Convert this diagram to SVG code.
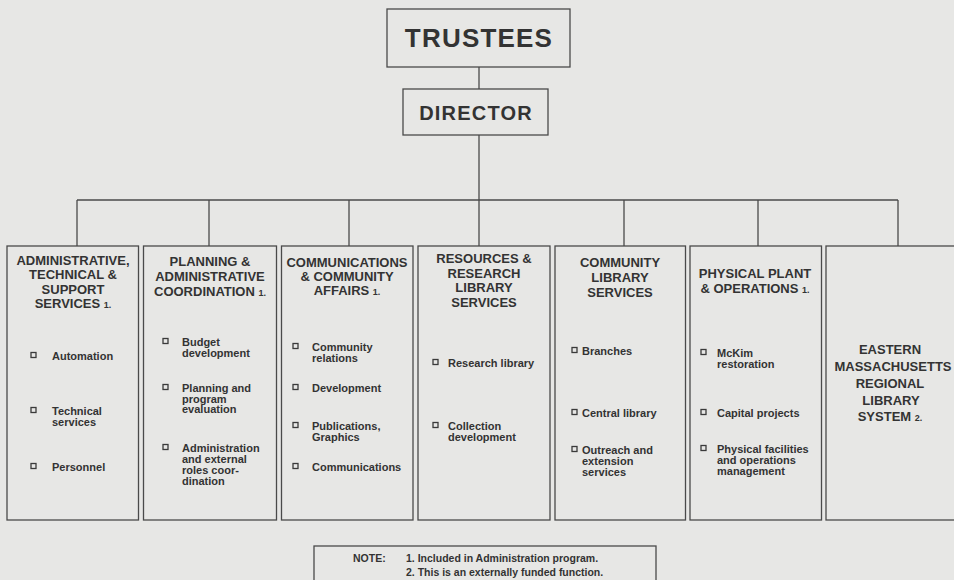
<svg xmlns="http://www.w3.org/2000/svg" width="954" height="580" viewBox="0 0 954 580">
  <style>
    .box { fill: none; stroke: #4a4a4a; stroke-width: 1.3; }
    .wire { fill: none; stroke: #4a4a4a; stroke-width: 1.3; }
    .title { font-family: "Liberation Sans", Arial, sans-serif; font-weight: bold; fill: #333; text-anchor: middle; }
    .head { font-family: "Liberation Sans", Arial, sans-serif; font-weight: bold; font-size: 13px; fill: #333; text-anchor: middle; }
    .fn { font-size: 9px; }
    .item { font-family: "Liberation Sans", Arial, sans-serif; font-weight: bold; font-size: 11px; fill: #333; }
    .bul { fill: none; stroke: #3a3a3a; stroke-width: 1.3; }
    .note { font-family: "Liberation Sans", Arial, sans-serif; font-weight: bold; font-size: 10.5px; fill: #333; }
  </style>
  <rect x="0" y="0" width="954" height="580" fill="#e7e7e5"/>

  <!-- connectors -->
  <g id="connectors">
    <line class="wire" x1="479" y1="67" x2="479" y2="89"/>
    <line class="wire" x1="479" y1="135" x2="479" y2="200"/>
    <line class="wire" x1="77" y1="200" x2="898" y2="200"/>
    <line class="wire" x1="77" y1="200" x2="77" y2="246"/>
    <line class="wire" x1="209" y1="200" x2="209" y2="246"/>
    <line class="wire" x1="349" y1="200" x2="349" y2="246"/>
    <line class="wire" x1="479" y1="200" x2="479" y2="246"/>
    <line class="wire" x1="624" y1="200" x2="624" y2="246"/>
    <line class="wire" x1="758" y1="200" x2="758" y2="246"/>
    <line class="wire" x1="898" y1="200" x2="898" y2="246"/>
  </g>

  <g id="trustees">
    <rect class="box" x="387" y="9" width="183" height="58"/>
    <text class="title" x="479" y="47" font-size="26" letter-spacing="1.2">TRUSTEES</text>
  </g>

  <g id="director">
    <rect class="box" x="403" y="89" width="145" height="46"/>
    <text class="title" x="476" y="120" font-size="20" letter-spacing="1.2">DIRECTOR</text>
  </g>

  <g id="admin-services">
    <rect class="box" x="7" y="246" width="131.5" height="274"/>
    <text class="head" x="73" y="265">ADMINISTRATIVE,</text>
    <text class="head" x="73" y="279">TECHNICAL &amp;</text>
    <text class="head" x="73" y="293.5">SUPPORT</text>
    <text class="head" x="73" y="308">SERVICES <tspan class="fn">1.</tspan></text>
    <rect class="bul" x="31" y="352.5" width="5" height="5"/>
    <text class="item" x="52" y="360">Automation</text>
    <rect class="bul" x="31" y="407.5" width="5" height="5"/>
    <text class="item" x="52" y="415">Technical</text>
    <text class="item" x="52" y="426">services</text>
    <rect class="bul" x="31" y="463.5" width="5" height="5"/>
    <text class="item" x="52" y="471">Personnel</text>
  </g>

  <g id="planning">
    <rect class="box" x="143.5" y="246" width="133" height="274"/>
    <text class="head" x="210" y="266">PLANNING &amp;</text>
    <text class="head" x="210" y="281">ADMINISTRATIVE</text>
    <text class="head" x="210" y="296">COORDINATION <tspan class="fn">1.</tspan></text>
    <rect class="bul" x="163" y="338.5" width="5" height="5"/>
    <text class="item" x="182" y="346">Budget</text>
    <text class="item" x="182" y="357">development</text>
    <rect class="bul" x="163" y="384.5" width="5" height="5"/>
    <text class="item" x="182" y="392">Planning and</text>
    <text class="item" x="182" y="402.5">program</text>
    <text class="item" x="182" y="413">evaluation</text>
    <rect class="bul" x="163" y="444.5" width="5" height="5"/>
    <text class="item" x="182" y="452">Administration</text>
    <text class="item" x="182" y="463">and external</text>
    <text class="item" x="182" y="474">roles coor-</text>
    <text class="item" x="182" y="485">dination</text>
  </g>

  <g id="communications">
    <rect class="box" x="281.5" y="246" width="131.5" height="274"/>
    <text class="head" x="347" y="267">COMMUNICATIONS</text>
    <text class="head" x="347" y="281">&amp; COMMUNITY</text>
    <text class="head" x="347" y="295">AFFAIRS <tspan class="fn">1.</tspan></text>
    <rect class="bul" x="293" y="343.5" width="5" height="5"/>
    <text class="item" x="312" y="351">Community</text>
    <text class="item" x="312" y="362">relations</text>
    <rect class="bul" x="293" y="384.5" width="5" height="5"/>
    <text class="item" x="312" y="392">Development</text>
    <rect class="bul" x="293" y="422.5" width="5" height="5"/>
    <text class="item" x="312" y="430">Publications,</text>
    <text class="item" x="312" y="441">Graphics</text>
    <rect class="bul" x="293" y="463.5" width="5" height="5"/>
    <text class="item" x="312" y="471">Communications</text>
  </g>

  <g id="research">
    <rect class="box" x="418" y="246" width="132" height="274"/>
    <text class="head" x="484" y="263">RESOURCES &amp;</text>
    <text class="head" x="484" y="277.5">RESEARCH</text>
    <text class="head" x="484" y="292">LIBRARY</text>
    <text class="head" x="484" y="307">SERVICES</text>
    <rect class="bul" x="433" y="359.5" width="5" height="5"/>
    <text class="item" x="448" y="367">Research library</text>
    <rect class="bul" x="433" y="422.5" width="5" height="5"/>
    <text class="item" x="448" y="430">Collection</text>
    <text class="item" x="448" y="441">development</text>
  </g>

  <g id="community-library">
    <rect class="box" x="555" y="246" width="130.5" height="274"/>
    <text class="head" x="620" y="267">COMMUNITY</text>
    <text class="head" x="620" y="282">LIBRARY</text>
    <text class="head" x="620" y="297">SERVICES</text>
    <rect class="bul" x="572" y="347.5" width="5" height="5"/>
    <text class="item" x="582" y="355">Branches</text>
    <rect class="bul" x="572" y="409.5" width="5" height="5"/>
    <text class="item" x="582" y="417">Central library</text>
    <rect class="bul" x="572" y="446.5" width="5" height="5"/>
    <text class="item" x="582" y="454">Outreach and</text>
    <text class="item" x="582" y="465">extension</text>
    <text class="item" x="582" y="476">services</text>
  </g>

  <g id="physical-plant">
    <rect class="box" x="690" y="246" width="131.5" height="274"/>
    <text class="head" x="755" y="278">PHYSICAL PLANT</text>
    <text class="head" x="755" y="293">&amp; OPERATIONS <tspan class="fn">1.</tspan></text>
    <rect class="bul" x="701" y="349.5" width="5" height="5"/>
    <text class="item" x="717" y="357">McKim</text>
    <text class="item" x="717" y="368">restoration</text>
    <rect class="bul" x="701" y="409.5" width="5" height="5"/>
    <text class="item" x="717" y="417">Capital projects</text>
    <rect class="bul" x="701" y="445.5" width="5" height="5"/>
    <text class="item" x="717" y="453">Physical facilities</text>
    <text class="item" x="717" y="464">and operations</text>
    <text class="item" x="717" y="475">management</text>
  </g>

  <g id="regional-system">
    <rect class="box" x="826" y="246" width="132" height="274"/>
    <text class="head" x="890" y="354">EASTERN</text>
    <text class="head" x="893" y="371">MASSACHUSETTS</text>
    <text class="head" x="890" y="388">REGIONAL</text>
    <text class="head" x="891" y="404.5">LIBRARY</text>
    <text class="head" x="890" y="421">SYSTEM <tspan class="fn">2.</tspan></text>
  </g>

  <g id="note">
    <rect class="box" x="314" y="546" width="342" height="40"/>
    <text class="note" x="353" y="562">NOTE:</text>
    <text class="note" x="406" y="562">1.  Included in Administration program.</text>
    <text class="note" x="406" y="576">2.  This is an externally funded function.</text>
  </g>
</svg>
